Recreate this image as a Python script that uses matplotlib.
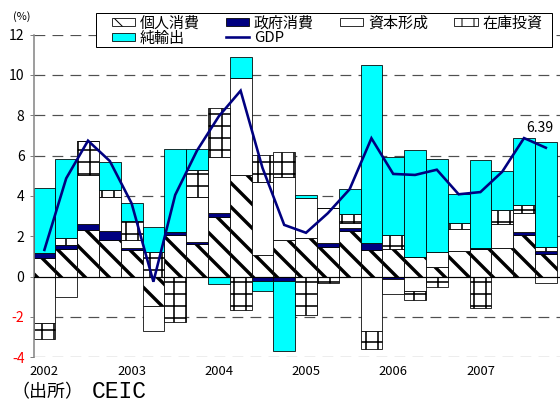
import matplotlib
matplotlib.use('Agg')
import matplotlib.pyplot as plt
import numpy as np
from matplotlib.patches import Patch, Rectangle
from matplotlib.lines import Line2D

# ---- data (quarterly, 2002Q1 - 2007Q4), contributions to GDP growth (%) ----
quarters = ['2002Q1', '2002Q2', '2002Q3', '2002Q4', '2003Q1', '2003Q2', '2003Q3', '2003Q4',
            '2004Q1', '2004Q2', '2004Q3', '2004Q4', '2005Q1', '2005Q2', '2005Q3', '2005Q4',
            '2006Q1', '2006Q2', '2006Q3', '2006Q4', '2007Q1', '2007Q2', '2007Q3', '2007Q4']
year_labels = ['2002', '2003', '2004', '2005', '2006', '2007']

consumption = [0.93, 1.36, 2.31, 1.81, 1.33, -1.46, 2.06, 1.61, 2.97, 5.04, 1.07, 1.81,
               1.90, 1.48, 2.27, 1.32, 1.35, 0.95, 0.49, 1.28, 1.35, 1.43, 2.06, 1.12]
government = [0.22, 0.20, 0.29, 0.45, 0.07, 0.00, 0.15, 0.09, 0.17, 0.00, -0.20, -0.20,
              0.00, 0.20, 0.12, 0.36, -0.13, 0.00, 0.00, 0.00, 0.05, 0.00, 0.16, 0.16]
capital = [-2.32, -1.00, 2.44, 1.70, 0.40, -1.23, 0.00, 2.26, 2.78, 4.80, 3.64, 3.14,
           1.98, 1.70, 0.25, -2.69, -0.74, -0.72, 0.74, 1.06, 0.00, 1.17, 0.92, -0.31]
inventory = [-0.78, 0.34, 1.70, 0.33, 0.97, 1.20, -2.26, 1.33, 2.46, -1.66, 1.32, 1.24,
             -1.91, -0.30, 0.47, -0.92, 0.71, -0.45, -0.54, 0.33, -1.58, 0.70, 0.41, 0.20]
net_exports = [3.26, 3.92, 0.00, 1.41, 0.86, 1.27, 4.10, 1.02, -0.37, 1.04, -0.50, -3.48,
               0.16, 0.00, 1.22, 8.82, 3.89, 5.33, 4.59, 1.41, 4.38, 1.94, 3.31, 5.21]
gdp = [1.32, 4.87, 6.74, 5.73, 3.63, -0.26, 4.05, 6.25, 7.95, 9.22, 5.40, 2.56,
       2.17, 3.14, 4.33, 6.86, 5.09, 5.04, 5.30, 4.08, 4.19, 5.20, 6.87, 6.39]

series_names = ['個人消費', '政府消費', '資本形成', '在庫投資', '純輸出']
series_values = [consumption, government, capital, inventory, net_exports]

plt.rcParams['font.family'] = ['Noto Sans CJK JP', 'DejaVu Sans']

W, H = 560, 403
fig = plt.figure(figsize=(W / 72, H / 72), dpi=72)
y_top_px, y_bot_px, x_left_px = 34.7, 357.1, 33.5
ax = fig.add_axes([x_left_px / W, (H - y_bot_px) / H, (W - x_left_px) / W, (y_bot_px - y_top_px) / H])

styles = [
    dict(facecolor='white', hatch='\\', hlw=3.4),
    dict(facecolor='#000080', hatch=None, hlw=1.0),
    dict(facecolor='white', hatch=None, hlw=1.0),
    dict(facecolor='white', hatch='+', hlw=1.6),
    dict(facecolor='#00FFFF', hatch=None, hlw=1.0),
]

x = np.arange(len(quarters))
pos_bottom = np.zeros(len(x))
neg_bottom = np.zeros(len(x))
handles = []
for name, vals, st in zip(series_names, series_values, styles):
    v = np.array(vals, dtype=float)
    bottom = np.where(v >= 0, pos_bottom, neg_bottom)
    with plt.rc_context({'hatch.linewidth': st['hlw']}):
        bars = ax.bar(x, v, width=1.0, bottom=bottom, facecolor=st['facecolor'],
                      edgecolor='black', linewidth=0.8, hatch=st['hatch'], zorder=2)
        for p in bars:
            if hasattr(p, 'set_hatch_linewidth'):
                p.set_hatch_linewidth(st['hlw'])
        h = Patch(facecolor=st['facecolor'], edgecolor='black', linewidth=0.8, hatch=st['hatch'])
        if hasattr(h, 'set_hatch_linewidth'):
            h.set_hatch_linewidth(st['hlw'])
    handles.append(h)
    pos_bottom = pos_bottom + np.where(v >= 0, v, 0)
    neg_bottom = neg_bottom + np.where(v < 0, v, 0)

ax.plot(x, gdp, color='#000080', lw=2.6, zorder=4, solid_joinstyle='miter')
gdp_handle = Line2D([0], [0], color='#000080', lw=2.6)

ax.text(22.71, 7.39, '6.39', ha='center', va='center', fontsize=14, zorder=5)

ax.set_xlim(-0.5, 23.65)
ax.set_ylim(-4, 12)
yt = list(range(-4, 13, 2))
ax.set_yticks(yt)
ax.set_yticklabels([str(t) for t in yt], fontsize=14)
for lab, t in zip(ax.get_yticklabels(), yt):
    lab.set_color('#FF0000' if t < 0 else 'black')
ax.tick_params(axis='y', length=4, width=1, color='#808080', pad=5)
ax.set_xticks(x[::4])
ax.set_xticklabels(year_labels, fontsize=13)
ax.tick_params(axis='x', length=0, pad=8)

for t in yt:
    if t != 0:
        ax.axhline(t, color='#505050', lw=1.2, linestyle=(0, (9, 6)), zorder=1)
ax.axhline(0, color='black', lw=1.2, zorder=3)

for s in ['top', 'right', 'bottom']:
    ax.spines[s].set_visible(False)
ax.spines['left'].set_color('#808080')
ax.spines['left'].set_linewidth(1.5)

# legend frame
frame = Rectangle((95.7 / W, 1 - 46.7 / H), 456 / W, 34 / H, transform=fig.transFigure,
                  facecolor='white', edgecolor='black', linewidth=1.0, zorder=3)
fig.add_artist(frame)
leg_handles = [handles[0], handles[4], handles[1], gdp_handle, handles[2], handles[3]]
leg_labels = [series_names[0], series_names[4], series_names[1], 'GDP', series_names[2], series_names[3]]
leg = fig.legend(leg_handles, leg_labels, ncol=4, loc='upper left',
                 bbox_to_anchor=(112 / W, 1 - 16 / H, 430 / W, 0), mode='expand',
                 borderaxespad=0, borderpad=0, frameon=False, fontsize=15,
                 handlelength=1.55, handleheight=0.5, handletextpad=0.3,
                 labelspacing=0.05)
leg.set_zorder(6)

fig.text(13 / W, 1 - 17 / H, '(%)', fontsize=11, va='center', ha='left')
fig.text(11 / W, 1 - 392 / H, '（出所）', fontsize=18, va='center', ha='left')
fig.text(92 / W, 1 - 392 / H, 'CEIC', fontsize=23, va='center', ha='left',
         family=['Liberation Mono'])

fig.savefig('out.png', dpi=72)
